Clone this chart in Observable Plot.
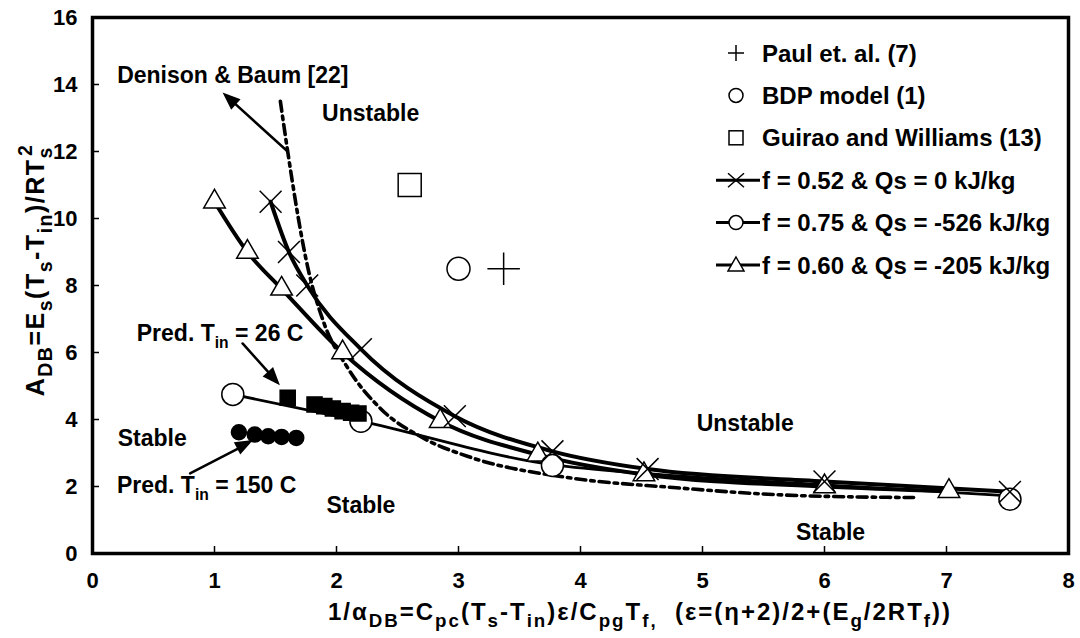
<!DOCTYPE html>
<html><head><meta charset="utf-8">
<script src="https://cdn.jsdelivr.net/npm/d3@7"></script>
<script src="https://cdn.jsdelivr.net/npm/@observablehq/plot@0.6"></script>
<style>body{margin:0;background:#fff} svg{display:block}</style>
</head><body><div id="chart"></div>
<script>
const FONT = "'Liberation Sans', Arial, Helvetica, sans-serif";
const xTicks = [0,1,2,3,4,5,6,7,8];
const yTicks = [0,2,4,6,8,10,12,14,16];

const paulX = [3.37], paulY = [8.5];
const bdpX = [3.0], bdpY = [8.5];
const guiraoX = [2.6], guiraoY = [11.0];

const f052X = [1.46,1.61,1.76,2.2,2.97,3.77,4.55,6.0,7.52];
const f052Y = [10.5,9.0,8.0,6.1,4.1,3.05,2.52,2.15,1.84];
const f060X = [1.0,1.27,1.55,2.05,2.85,3.65,4.52,6.0,7.02];
const f060Y = [10.5,9.0,7.9,6.0,3.95,2.95,2.36,2.0,1.86];
const f075CurveX = [1.15,2.2,3.77,4.55,6.0,7.52];
const f075CurveY = [4.75,3.95,2.65,2.38,2.05,1.72];
const f075MarkX = [1.15,2.2,3.77,7.52];
const f075MarkY = [4.75,3.95,2.63,1.62];
const denX = [1.54,1.6,1.77,1.89,2.09,2.36,2.72,3.1,3.89,4.76,5.78,6.73];
const denY = [13.5,12.0,8.45,6.95,5.55,4.33,3.43,2.87,2.27,1.97,1.73,1.67];
const pred26X = [1.6,1.82,1.9,1.97,2.05,2.12,2.18];
const pred26Y = [4.65,4.45,4.4,4.33,4.25,4.2,4.18];
const pred150X = [1.2,1.33,1.44,1.55,1.67];
const pred150Y = [3.62,3.55,3.5,3.48,3.45];

const annoText = ["Denison & Baum [22]","Unstable","Unstable","Stable","Stable","Stable"];
const annoX = [1.15,2.28,5.35,0.49,2.2,6.05];
const annoY = [14.27,13.13,3.88,3.43,1.43,0.63];

const arrowX1 = [1.60,1.23,0.80], arrowY1 = [12.0,6.27,2.39];
const arrowX2 = [1.07,1.54,1.32], arrowY2 = [13.75,5.01,3.37];

const predLabels = ["26 C","150 C"];
const predLabelX = [1.05,0.94], predLabelY = [6.57,2.03];

const legendLabels = ["Paul et. al. (7)","BDP model (1)","Guirao and Williams (13)",
  "f = 0.52 & Qs = 0 kJ/kg","f = 0.75 & Qs = -526 kJ/kg","f = 0.60 & Qs = -205 kJ/kg"];
const legendSymbols = ["plus","circle","square","times","circle","triangle"];
const legendHasLine = [false,false,false,true,true,true];

const idx = a => a.map((_, i) => i);

const chart = Plot.plot({
  width: 1080, height: 638,
  marginLeft: 92, marginRight: 12, marginTop: 17, marginBottom: 85,
  x: {domain: [0, 8], ticks: xTicks, label: null},
  y: {domain: [0, 16], ticks: yTicks, label: null},
  style: {fontFamily: FONT, fontSize: "22px", fontWeight: "bold", background: "white", color: "black", overflow: "visible"},
  marks: [
    Plot.axisX({ticks: xTicks, tickSize: -7, tickPadding: 26, label: null, fontSize: 22, fontWeight: "bold", strokeWidth: 1.5}),
    Plot.axisY({ticks: yTicks, tickSize: -7, tickPadding: 22, label: null, fontSize: 22, fontWeight: "bold", strokeWidth: 1.5}),
    Plot.line(denX, {x: denX, y: denY, curve: "monotone-x", stroke: "black", strokeWidth: 3.6, strokeDasharray: "10,5,3.5,5"}),
    Plot.line(f075CurveX, {x: f075CurveX, y: f075CurveY, curve: "monotone-x", stroke: "black", strokeWidth: 2.8}),
    Plot.line(f060X, {x: f060X, y: f060Y, curve: "monotone-x", stroke: "black", strokeWidth: 4}),
    Plot.line(f052X, {x: f052X, y: f052Y, curve: "monotone-x", stroke: "black", strokeWidth: 4}),
    Plot.dot(f060X, {x: f060X, y: f060Y, symbol: "triangle", r: 8, fill: "white", stroke: "black", strokeWidth: 1.5}),
    Plot.dot(f075MarkX, {x: f075MarkX, y: f075MarkY, symbol: "circle", r: 11, fill: "white", stroke: "black", strokeWidth: 1.5}),
    Plot.dot(f052X, {x: f052X, y: f052Y, symbol: "times", r: 10, fill: "none", stroke: "black", strokeWidth: 1.5}),
    Plot.dot(pred26X, {x: pred26X, y: pred26Y, symbol: "square", r: 8.5, fill: "black", stroke: "black"}),
    Plot.dot(pred150X, {x: pred150X, y: pred150Y, symbol: "circle", r: 7.5, fill: "black", stroke: "black"}),
    Plot.dot(paulX, {x: paulX, y: paulY, symbol: "plus", r: 10.5, fill: "none", stroke: "black", strokeWidth: 1.5}),
    Plot.dot(bdpX, {x: bdpX, y: bdpY, symbol: "circle", r: 11.5, fill: "white", stroke: "black", strokeWidth: 1.5}),
    Plot.dot(guiraoX, {x: guiraoX, y: guiraoY, symbol: "square", r: 13, fill: "white", stroke: "black", strokeWidth: 1.5}),
    Plot.arrow(idx(arrowX1), {x1: i => arrowX1[i], y1: i => arrowY1[i], x2: i => arrowX2[i], y2: i => arrowY2[i],
      stroke: "black", strokeWidth: 2.5, headLength: 0, insetEnd: 6}),
    Plot.text(annoText, {x: annoX, y: annoY, text: d => d, fontSize: 23, fontWeight: "bold", fill: "black"}),
    Plot.frame({stroke: "black", strokeWidth: 3.5})
  ]
});
document.getElementById("chart").appendChild(chart);

const svg = d3.select(chart);
const sx = chart.scale("x"), sy = chart.scale("y");

// filled arrowheads at the arrow tips
arrowX1.forEach((_, i) => {
  const x1 = sx.apply(arrowX1[i]), y1 = sy.apply(arrowY1[i]);
  const x2 = sx.apply(arrowX2[i]), y2 = sy.apply(arrowY2[i]);
  const a = Math.atan2(y2 - y1, x2 - x1), L = 18, W = 7;
  const bx = x2 - L * Math.cos(a), by = y2 - L * Math.sin(a);
  const px = -Math.sin(a) * W, py = Math.cos(a) * W;
  svg.append("path").attr("d", `M${x2},${y2}L${bx + px},${by + py}L${bx - px},${by - py}Z`).attr("fill", "black");
});

function rich(parts, x, y, size, anchor, rotate, subScale = 0.68, spacing = 0) {
  const t = svg.append("text").attr("x", x).attr("y", y).attr("text-anchor", anchor)
    .attr("font-size", size).attr("font-weight", "bold").attr("font-family", FONT).attr("fill", "black");
  if (spacing) t.attr("letter-spacing", spacing);
  if (rotate) t.attr("transform", `rotate(-90,${x},${y})`);
  let shift = 0;
  for (const [s, k, dx] of parts) {
    const target = k === "sub" ? size * 0.3 : k === "sup" ? -size * 0.5 : 0;
    const ts = t.append("tspan").attr("dy", target - shift).text(s);
    if (dx) ts.attr("dx", dx);
    if (k !== "n") ts.attr("font-size", size * subScale);
    shift = target;
  }
  return t;
}

// axis titles
rich([["1/α","n"],["DB","sub"],["=C","n"],["pc","sub"],["(T","n"],["s","sub"],["-T","n"],["in","sub"],
      [")ε/C","n"],["pg","sub"],["T","n"],["f,","sub"],["\u00a0\u00a0(ε=(η+2)/2+(E","n"],["g","sub"],["/2RT","n"],["f","sub"],["))","n"]],
     640, 620, 24, "middle", false, 0.78, 2);
rich([["A","n"],["DB","sub"],["=E","n"],["s","sub"],["(T","n"],["s","sub"],["-T","n"],["in","sub"],[")/RT","n"],["s","sub"],["2","sup",-10]],
     44, 270, 25, "middle", true, 0.78, 1.5);

// prediction labels with subscripts
predLabels.forEach((p, i) => {
  rich([["Pred. T","n"],["in","sub"],["\u00a0= " + p,"n"]], sx.apply(predLabelX[i]), sy.apply(predLabelY[i]) + 8, 23, "middle", false);
});

// legend
const lg = svg.append("g").attr("stroke", "black");
legendLabels.forEach((lab, i) => {
  const cx = 736, cy = 53 + i * 42.4;
  if (legendHasLine[i]) lg.append("line").attr("x1", 716).attr("x2", 760).attr("y1", cy).attr("y2", cy).attr("stroke-width", 3);
  const s = legendSymbols[i];
  if (s === "plus") lg.append("path").attr("d", `M${cx-8},${cy}H${cx+8}M${cx},${cy-8}V${cy+8}`).attr("stroke-width", 1.5);
  if (s === "times") lg.append("path").attr("d", `M${cx-8},${cy-7}L${cx+8},${cy+7}M${cx-8},${cy+7}L${cx+8},${cy-7}`).attr("stroke-width", 1.5);
  if (s === "circle") lg.append("circle").attr("cx", cx).attr("cy", cy).attr("r", 7).attr("fill", "white").attr("stroke-width", 1.5);
  if (s === "square") lg.append("rect").attr("x", cx-7).attr("y", cy-7).attr("width", 14).attr("height", 14).attr("fill", "white").attr("stroke-width", 1.5);
  if (s === "triangle") lg.append("path").attr("d", `M${cx},${cy-8}L${cx+8},${cy+6}L${cx-8},${cy+6}Z`).attr("fill", "white").attr("stroke-width", 1.5);
  svg.append("text").attr("x", 762).attr("y", cy).attr("dy", "0.36em").attr("text-anchor", "start").attr("font-size", 24).attr("font-weight", "bold")
    .attr("font-family", FONT).attr("fill", "black").text(lab);
});
</script>
</body></html>
